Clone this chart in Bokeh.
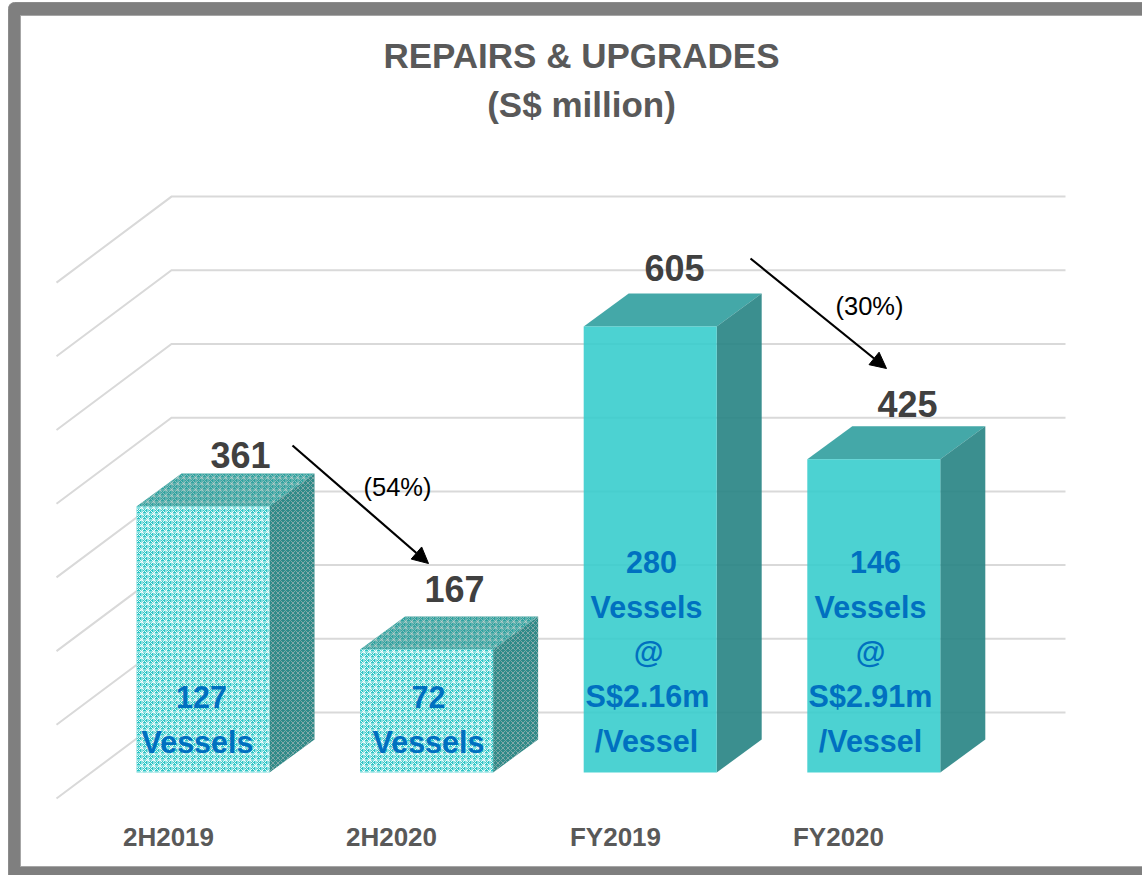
from bokeh.plotting import figure
from bokeh.models import Arrow, NormalHead
from bokeh.core.properties import value
from bokeh.embed import file_html
from bokeh.resources import INLINE

# ---- data ----
categories = ["2H2019", "2H2020", "FY2019", "FY2020"]
revenue = [361, 167, 605, 425]
inner_labels = [
    ["127", "Vessels"],
    ["72", "Vessels"],
    ["280", "Vessels", "@", "S$2.16m", "/Vessel"],
    ["146", "Vessels", "@", "S$2.91m", "/Vessel"],
]
changes = ["(54%)", "(30%)"]
grid_values = [0, 100, 200, 300, 400, 500, 600, 700]
title_lines = ["REPAIRS & UPGRADES", "(S$ million)"]

# ---- layout (pixels) ----
W, H = 1142, 875
PX_PER_UNIT = 0.737
BASE_PX = 772
FONT = "Liberation Sans"

def yv(px):
    """page pixel row -> value-axis units"""
    return (BASE_PX - px) / PX_PER_UNIT

p = figure(width=W, height=H, output_backend="svg", toolbar_location=None,
           x_range=(0, W), y_range=(yv(H), yv(0)), x_axis_type="linear",
           min_border=0, outline_line_color=None, background_fill_color="white")
p.axis.visible = False
p.grid.visible = False

# frame
p.quad(left=8, right=W + 20, top=yv(2), bottom=yv(H + 20), fill_color="#7f7f7f",
       line_color="#8c8c8c", border_radius=6)
p.quad(left=20, right=W + 20, top=yv(15), bottom=yv(866), fill_color="white",
       line_color="#a6a6a6", line_width=1)

# 3-D wall grid
GRID = "#d9d9d9"
BACK_DY = yv(712)          # value shift of the back wall
SIDE_DY = yv(798)          # value shift of the front edge of the floor
for v in grid_values:
    p.line([56, 171, 1065], [v + SIDE_DY, v + BACK_DY, v + BACK_DY],
           line_color=GRID, line_width=2, line_join="miter")

# bars
BAR_X0, BAR_STEP, BAR_W, DX = 136, 223.6, 133, 45
DY = yv(BASE_PX - 33)
SOLID = dict(front="#33cccc", top="#2a9c9c", side="#2a8585")
for i, v in enumerate(revenue):
    x0 = BAR_X0 + i * BAR_STEP
    x1 = x0 + BAR_W
    top_xs = [x0, x1, x1 + DX, x0 + DX]
    top_ys = [v, v, v + DY, v + DY]
    side_xs = [x1, x1 + DX, x1 + DX, x1]
    side_ys = [0, DY, v + DY, v]
    front_xs = [x0, x1, x1, x0]
    front_ys = [0, 0, v, v]
    if i < 2:
        p.patch(top_xs, top_ys, fill_color="#2fa3a0", line_color=None,
                hatch_pattern="criss_cross", hatch_color="#c8d0ce", hatch_scale=6, hatch_weight=1, hatch_alpha=0.6)
        p.patch(side_xs, side_ys, fill_color="#2f8a88", line_color=None,
                hatch_pattern="diagonal_cross", hatch_color="#b5bcbc", hatch_scale=5, hatch_weight=1, hatch_alpha=0.6)
        p.patch(front_xs, front_ys, fill_color="#2cc6c6", line_color=None,
                hatch_pattern="criss_cross", hatch_color="white", hatch_scale=6, hatch_weight=1, hatch_alpha=0.9)
    else:
        p.patch(top_xs, top_ys, fill_color=SOLID["top"], fill_alpha=0.88, line_color=None)
        p.patch(side_xs, side_ys, fill_color=SOLID["side"], fill_alpha=0.92, line_color=None)
        p.patch(front_xs, front_ys, fill_color=SOLID["front"], fill_alpha=0.88, line_color=None)

def label(x, px, s, size, color, bold=True, font=FONT):
    p.text([x], [yv(px)], text=[s], text_font=value(font), text_font_size=f"{size}px",
           text_font_style="bold" if bold else "normal", text_color=color,
           text_align="center", text_baseline="middle")

# title
label(581, 55, title_lines[0], 35, "#595959")
label(581, 104, title_lines[1], 35, "#595959")

# values above bars
value_pos = [(240, 454), (454, 588), (674, 267), (907, 403)]
for v, (x, y) in zip(revenue, value_pos):
    label(x, y, str(v), 36, "#404040")

# labels inside the bars
inner_x = [[201, 197], [428, 428], [651, 646, 648, 647, 646], [875, 870, 870, 870, 870]]
inner_y = [[696, 741], [696, 741], [561, 606, 651, 695, 740], [561, 606, 651, 695, 740]]
for lines, xs, ys in zip(inner_labels, inner_x, inner_y):
    for s, x, y in zip(lines, xs, ys):
        label(x, y, s, 30.5, "#0070c0")

# categories
cat_x = [168, 391, 615, 838]
for c, x in zip(categories, cat_x):
    label(x, 836, c, 26, "#595959")

# change annotations
for (x0, y0, x1, y1), (tx, ty), s in zip(
        [(292, 445, 428, 563), (750, 258, 886, 368)], [(397, 486), (869, 305)], changes):
    p.add_layout(Arrow(end=NormalHead(size=16, fill_color="black", line_color="black"),
                       x_start=x0, y_start=yv(y0), x_end=x1, y_end=yv(y1),
                       line_color="black", line_width=2.2))
    label(tx, ty, s, 25.5, "black", bold=False)

open("out.html", "w").write(file_html(p, INLINE))
